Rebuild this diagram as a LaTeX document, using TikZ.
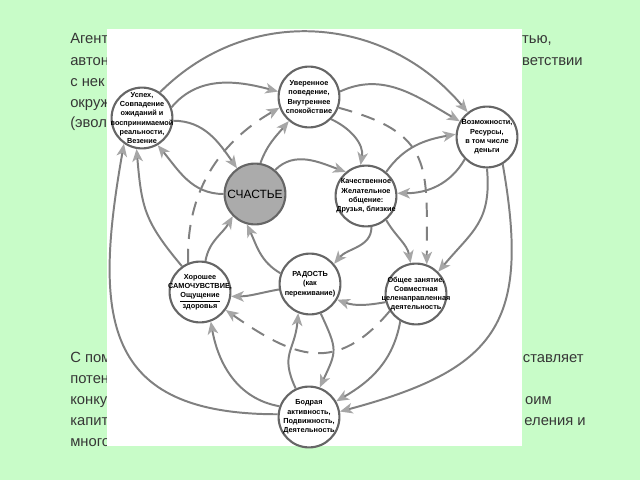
\documentclass[tikz,border=0pt]{standalone}
\usepackage{fontspec}
\setmainfont{Liberation Sans}
\usetikzlibrary{arrows.meta}
\definecolor{slide}{HTML}{C8FCC8}
\definecolor{paratext}{HTML}{363636}
\definecolor{ringgray}{HTML}{666666}
\definecolor{linkgray}{HTML}{808080}
\definecolor{tipgray}{HTML}{A6A6A6}
\definecolor{happygray}{HTML}{ABABAB}

\begin{document}
\begin{tikzpicture}[x=0.025cm, y=-0.025cm,
	bubble/.style={circle, draw=ringgray, line width=1.5pt, fill=white, minimum size=1.52cm, inner sep=-20pt, align=center, font=\fontsize{5.2}{6.6}\selectfont\bfseries},
	link/.style={draw=linkgray, line width=1.4pt, -{Stealth[length=9pt, width=7.5pt, inset=2.5pt, color=tipgray]}},
	guess/.style={link, dash pattern=on 10pt off 7pt},
	para/.style={font=\fontsize{10.5}{12}\selectfont, text=paratext, inner sep=0pt}]
			\useasboundingbox (0,0) rectangle (640,480);
			\fill[slide] (0,0) rectangle (640,480);

			% slide text round the picture
			\node[para, anchor=base west] (p1) at (70,44) {Агент};
			\node[para, anchor=base west] (p2) at (70,65) {автон};
			\node[para, anchor=base west] (p3) at (70,86) {с нек};
			\node[para, anchor=base west] (p4) at (70,107) {окруж};
			\node[para, anchor=base west] (p5) at (70,128) {(эвол};
			\node[para, anchor=base east] (q1) at (552,44) {тью,};
			\node[para, anchor=base east] (q2) at (583,65) {ветствии};

			\node[para, anchor=base west] (p6) at (70,362) {С пом};
			\node[para, anchor=base west] (p7) at (70,383) {потен};
			\node[para, anchor=base west] (p8) at (70,404) {конку};
			\node[para, anchor=base west] (p9) at (70,425) {капит};
			\node[para, anchor=base west] (p10) at (70,446) {много};
			\node[para, anchor=base east] (q3) at (584,362) {ставляет};
			\node[para, anchor=base east] (q4) at (552,404) {оим};
			\node[para, anchor=base east] (q5) at (586,425) {еления и};

			\fill[white] (107,29) rectangle (522,446);

			\node[bubble] (luck) at (142,118) {Успех,\\Совпадение\\ожиданий и\\воспринимаемой\\реальности,\\Везение};
			\node[bubble] (calm) at (309,97) {Уверенное\\поведение,\\Внутреннее\\спокойствие};
			\node[bubble] (res) at (487,137) {Возможности,\\Ресурсы,\\в том числе\\деньги};
			\node[bubble, fill=happygray, font=\fontsize{8.5}{10}\selectfont] (happy) at (255,194) {СЧАСТЬЕ};
			\node[bubble] (talk) at (366,196) {Качественное\\Желательное\\общение:\\Друзья, близкие};
			\node[bubble] (joy) at (310,284) {РАДОСТЬ\\(как\\переживание)};
			\node[bubble] (well) at (200,292) {Хорошее\\САМОЧУВСТВИЕ,\\\underline{Ощущение}\\[1pt]здоровья};
			\node[bubble] (team) at (416,294) {Общее занятие,\\Совместная\\целенаправленная\\деятельность};
			\node[bubble] (act) at (309,417) {Бодрая\\активность,\\Подвижность,\\Деятельность};

			% outer ring
			\draw[link] (luck.55) to[out=45, in=130, looseness=1.05] (res.128);
			\draw[link] (res.-60) to[out=-80, in=15, looseness=1.4] (act.10);
			\draw[link] (act.175) to[out=180, in=-100, looseness=1.45] (luck.-125);

			% middle ring
			\draw[link] (luck.20) to[out=50, in=165] (calm.170);
			\draw[link] (calm.10) to[out=25, in=150] (res.150);
			\draw[link] (res.-90) to[out=-85, in=50, looseness=1.2] (team.45);
			\draw[link] (team.-120) to[out=-100, in=30] (act.30);
			\draw[link] (act.160) to[out=170, in=-80] (well.-70);
			\draw[link] (well.125) to[out=130, in=-85, looseness=1.2] (luck.-100);

			% dashed ring
			\draw[guess] (well.112) to[out=92, in=-150] (calm.200);
			\draw[guess] (calm.-20) to[out=-15, in=90, looseness=1.4] (team.70);
			\draw[guess] (team.-147) to[out=-130, in=-35, looseness=1.3] (well.-35);

			% inner links
			\draw[link] (luck.-5) to[out=0, in=125] (happy.125);
			\draw[link] (happy.180) to[out=180, in=-50] (luck.-60);
			\draw[link] (happy.80) to[out=70, in=-130] (calm.-130);
			\draw[link] (happy.50) to[out=45, in=160] (talk.130);
			\draw[link] (calm.-45) to[out=-25, in=80] (talk.100);
			\draw[link] (talk.50) to[out=55, in=-170] (res.175);
			\draw[link] (res.-135) to[out=-120, in=0] (talk.5);
			\draw[link] (talk.-50) to[out=-60, in=100] (team.100);
			\draw[link] (talk.-80) to[out=-90, in=50] (joy.40);
			\draw[link] (team.-165) to[out=190, in=-20] (joy.-30);
			\draw[link] (joy.-170) to[out=190, in=0] (well.-8);
			\draw[link] (joy.160) to[out=150, in=-65] (happy.-105);
			\draw[link] (well.80) to[out=80, in=-120] (happy.-135);
			\draw[link] (act.115) to[out=115, in=-95, looseness=1.3] (joy.-112);
			\draw[link] (joy.-70) to[out=-65, in=65, looseness=1.4] (act.70);
\end{tikzpicture}
\end{document}
